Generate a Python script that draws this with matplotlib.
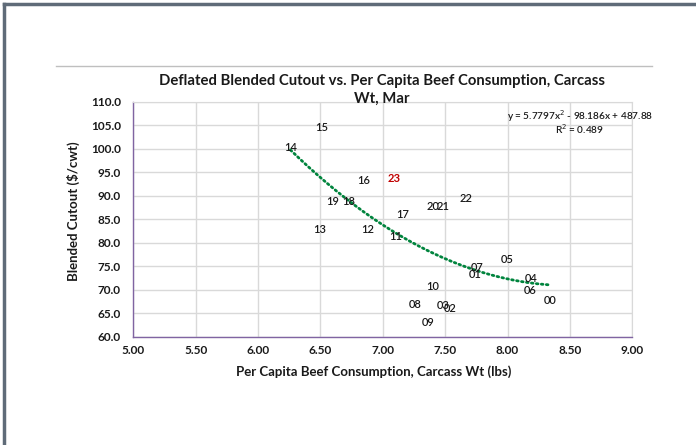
import numpy as np
import matplotlib
matplotlib.use('Agg')
import matplotlib.pyplot as plt
from matplotlib.lines import Line2D

plt.rcParams['font.family'] = ['Lato', 'DejaVu Sans']

# data labels (year) with per capita consumption and deflated cutout
years = ['00', '01', '02', '03', '04', '05', '06', '07', '08', '09', '10', '11',
         '12', '13', '14', '15', '16', '17', '18', '19', '20', '21', '22', '23']
consumption = [8.34, 7.74, 7.54, 7.48, 8.19, 8.00, 8.18, 7.76, 7.26, 7.36, 7.40, 7.10,
               6.88, 6.49, 6.26, 6.51, 6.85, 7.16, 6.73, 6.60, 7.40, 7.48, 7.67, 7.09]
cutout = [67.7, 73.2, 66.1, 66.6, 72.4, 76.5, 69.8, 74.8, 66.9, 63.1, 70.7, 81.4,
          82.9, 82.9, 100.2, 104.6, 93.2, 86.1, 88.7, 88.7, 87.8, 87.8, 89.5, 93.6]
highlight = '23'

# polynomial trendline coefficients as shown on the chart
trend_coef = [5.7797, -98.186, 487.88]
r_squared = 0.489

fig = plt.figure(figsize=(6.96, 4.45), dpi=100)
ax = fig.add_axes([0.1915, 0.2434, 0.717, 0.5281])

# trendline
xs = np.linspace(min(consumption), max(consumption), 200)
ax.plot(xs, np.polyval(trend_coef, xs), linestyle=(0, (0.6, 1.2)), color='#00843D',
        linewidth=2.0, dash_capstyle='round', zorder=2)

# data labels centered on the points
for lab, xv, yv in zip(years, consumption, cutout):
    col = '#C00000' if lab == highlight else '#1a1a1a'
    wt = 'bold' if lab == highlight else 'semibold'
    ax.text(xv, yv, lab, ha='center', va='center', fontsize=8, color=col,
            fontweight=wt, zorder=3)

ax.set_xlim(5, 9)
ax.set_ylim(60, 110)
ax.set_xticks(np.arange(5, 9.01, 0.5))
ax.set_yticks(np.arange(60, 110.1, 5))
ax.set_xticklabels(['%.2f' % v for v in np.arange(5, 9.01, 0.5)], fontweight='bold', fontsize=8.5)
ax.set_yticklabels(['%.1f' % v for v in np.arange(60, 110.1, 5)], fontweight='bold', fontsize=8.5)
ax.tick_params(length=0, pad=6, colors='#1a1a1a')
ax.tick_params(axis='y', pad=9)
ax.grid(True, color='#D9D9D9', linewidth=1.0)
ax.set_axisbelow(True)
for s in ['top', 'right']:
    ax.spines[s].set_color('#D9D9D9')
for s in ['left', 'bottom']:
    ax.spines[s].set_color('#8064A2')
    ax.spines[s].set_linewidth(1.0)

# equation and R^2
fig.text(580 / 696, 1 - 116 / 445, 'y = 5.7797x$^{2}$ - 98.186x + 487.88', fontsize=7.2,
         ha='center', va='center', color='#1a1a1a', fontweight='semibold')
fig.text(580 / 696, 1 - 129.5 / 445, 'R$^{2}$ = 0.489', fontsize=7.2, ha='center', va='center',
         color='#1a1a1a', fontweight='semibold')

# title
fig.text(382 / 696, 1 - 81 / 445, 'Deflated Blended Cutout vs. Per Capita Beef Consumption, Carcass',
         fontsize=10.7, fontweight='bold', ha='center', va='center', color='#1a1a1a')
fig.text(382 / 696, 1 - 99 / 445, 'Wt, Mar', fontsize=10.7, fontweight='bold', ha='center',
         va='center', color='#1a1a1a')

# axis titles
fig.text(374 / 696, 1 - 372 / 445, 'Per Capita Beef Consumption, Carcass Wt (lbs)', fontsize=9.5,
         fontweight='bold', ha='center', va='center', color='#1a1a1a')
fig.text(73 / 696, 1 - 211 / 445, 'Blended Cutout ($/cwt)', fontsize=9.5, fontweight='bold',
         ha='center', va='center', rotation=90, color='#1a1a1a')

# chart area lines
fig.add_artist(Line2D([56 / 696, 652 / 696], [1 - 66 / 445, 1 - 66 / 445], color='#BFBFBF',
                      linewidth=1.0, transform=fig.transFigure))
fig.add_artist(Line2D([3.5 / 696, 3.5 / 696], [0, 1 - 4 / 445], color='#5F6B78',
                      linewidth=2.5, transform=fig.transFigure))
fig.add_artist(Line2D([3.5 / 696, 1], [1 - 4 / 445, 1 - 4 / 445], color='#5F6B78',
                      linewidth=2.5, transform=fig.transFigure))

fig.savefig('out.png', dpi=100)
